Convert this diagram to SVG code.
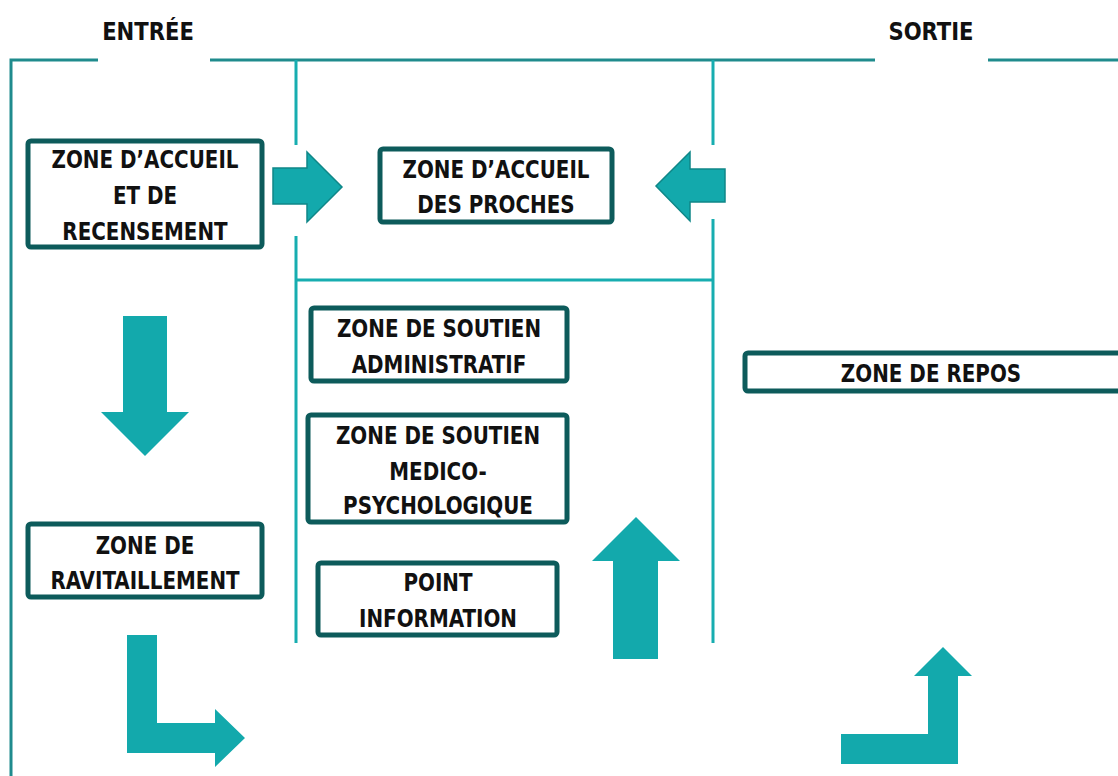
<svg xmlns="http://www.w3.org/2000/svg" width="1118" height="776" viewBox="0 0 1118 776">
<style>
.bg{fill:#ffffff}
.outer{stroke:#1f8b8d;stroke-width:3;fill:none}
.inner{stroke:#17adb0;stroke-width:3;fill:none}
.box{fill:#ffffff;stroke:#0d5b5b;stroke-width:5}
.arr{fill:#13a9ac}
.arro{fill:#13a9ac;stroke:#0f8788;stroke-width:1.5}
text{font-family:"Liberation Sans Narrow","DejaVu Sans Condensed","Liberation Sans",sans-serif;font-weight:bold;font-size:25px;fill:#111111;text-anchor:middle}
</style>
<rect class="bg" x="0" y="0" width="1118" height="776"/>
<g id="frame">
<path class="outer" d="M11,776 V60 H98 M210,60 H875 M988,60 H1118"/>
<path class="inner" d="M296,60 V145 M296,236 V643 M713,60 V145 M713,219 V643 M296,280 H713"/>
<g transform="scale(0.94,1)">
<text x="157.45" y="40">ENTRÉE</text>
<text x="990.43" y="40">SORTIE</text>
</g>
</g>
<g id="connectors">
<polygon class="arro" points="273,168 307,168 307,152 342,187 307,222 307,204 273,204"/>
<polygon class="arro" points="725,169 690,169 690,152 656,186 690,221 690,202 725,202"/>
<polygon class="arr" points="123,316 167,316 167,412 189,412 145,456 101,412 123,412"/>
<polygon class="arr" points="127,635 157,635 157,723 215,723 215,709 245,738 215,767 215,753 127,753"/>
<polygon class="arr" points="613,659 658,659 658,561 680,561 636,517 592,561 613,561"/>
<polygon class="arr" points="841,734 928,734 928,676 914,676 943,647 972,676 958,676 958,764 841,764"/>
</g>
<g id="n-accueil-recensement">
<rect class="box" x="28" y="141" width="234" height="106" rx="3"/>
<g transform="scale(0.885,1)">
<text x="163.84" y="168">ZONE D’ACCUEIL</text>
<text x="163.84" y="204">ET DE</text>
<text x="163.84" y="240">RECENSEMENT</text>
</g>
</g>
<g id="n-accueil-proches">
<rect class="box" x="380" y="149" width="232" height="73" rx="3"/>
<g transform="scale(0.885,1)">
<text x="560.45" y="178">ZONE D’ACCUEIL</text>
<text x="560.45" y="213">DES PROCHES</text>
</g>
</g>
<g id="n-soutien-admin">
<rect class="box" x="311" y="308" width="256" height="73" rx="3"/>
<g transform="scale(0.885,1)">
<text x="496.05" y="337">ZONE DE SOUTIEN</text>
<text x="496.05" y="373">ADMINISTRATIF</text>
</g>
</g>
<g id="n-soutien-medico">
<rect class="box" x="308" y="415" width="259" height="107" rx="3"/>
<g transform="scale(0.885,1)">
<text x="494.92" y="444">ZONE DE SOUTIEN</text>
<text x="494.92" y="480">MEDICO-</text>
<text x="494.92" y="514">PSYCHOLOGIQUE</text>
</g>
</g>
<g id="n-point-info">
<rect class="box" x="318" y="563" width="239" height="72" rx="3"/>
<g transform="scale(0.885,1)">
<text x="494.92" y="591">POINT</text>
<text x="494.92" y="627">INFORMATION</text>
</g>
</g>
<g id="n-ravitaillement">
<rect class="box" x="28" y="524" width="234" height="73" rx="3"/>
<g transform="scale(0.885,1)">
<text x="163.84" y="554">ZONE DE</text>
<text x="163.84" y="589">RAVITAILLEMENT</text>
</g>
</g>
<g id="n-repos">
<rect class="box" x="745" y="353" width="376" height="38" rx="3"/>
<g transform="scale(0.885,1)">
<text x="1051.98" y="382">ZONE DE REPOS</text>
</g>
</g>
</svg>
